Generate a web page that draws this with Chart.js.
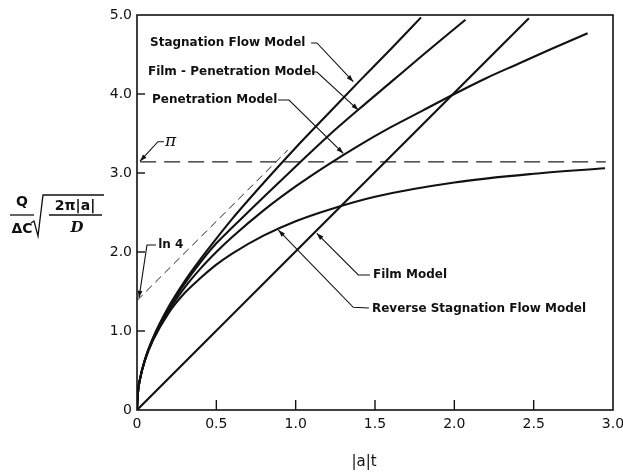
<!DOCTYPE html>
<html><head><meta charset="utf-8">
<script src="https://cdn.jsdelivr.net/npm/chart.js@4.4.1/dist/chart.umd.min.js"></script>
<style>html,body{margin:0;padding:0;background:#fff}canvas{display:block}</style>
</head><body>
<canvas id="c" width="623" height="472"></canvas>
<script>
// ---- tick values / labels ----
const xTickValues = [0, 0.5, 1, 1.5, 2, 2.5, 3];
const xTickLabels = ['0', '0.5', '1.0', '1.5', '2.0', '2.5', '3.0'];
const yTickValues = [0, 1, 2, 3, 4, 5];
const yTickLabels = ['0', '1.0', '2.0', '3.0', '4.0', '5.0'];

// ---- series ----
const stagX = [0, 0.005, 0.02, 0.05, 0.1, 0.2, 0.3, 0.4, 0.5, 0.6, 0.8, 1.0, 1.2, 1.4, 1.6, 1.79];
const stagY = [0, 0.20, 0.40, 0.64, 0.91, 1.31, 1.63, 1.91, 2.17, 2.42, 2.88, 3.32, 3.74, 4.16, 4.57, 4.97];

const filmPenX = [0, 0.005, 0.02, 0.05, 0.1, 0.2, 0.3, 0.4, 0.5, 0.6, 0.8, 1.03, 1.2, 1.4, 1.6, 1.8, 2.07];
const filmPenY = [0, 0.20, 0.40, 0.635, 0.90, 1.29, 1.60, 1.87, 2.11, 2.31, 2.70, 3.14, 3.46, 3.81, 4.15, 4.49, 4.94];

const penX = [0, 0.005, 0.02, 0.05, 0.1, 0.2, 0.3, 0.4, 0.5, 0.6, 0.8, 1.0, 1.2, 1.4, 1.6, 1.8, 2.0, 2.2, 2.4, 2.6, 2.84];
const penY = [0, 0.20, 0.40, 0.63, 0.89, 1.26, 1.55, 1.79, 2.00, 2.19, 2.53, 2.83, 3.10, 3.35, 3.58, 3.79, 4.00, 4.20, 4.38, 4.56, 4.77];

const filmX = [0, 2.47];
const filmY = [0, 4.96];

const revStagX = [0, 0.005, 0.02, 0.05, 0.1, 0.2, 0.3, 0.4, 0.5, 0.6, 0.8, 1.0, 1.2, 1.5, 2.0, 2.5, 2.95];
const revStagY = [0, 0.20, 0.40, 0.63, 0.88, 1.23, 1.48, 1.67, 1.84, 1.98, 2.21, 2.39, 2.53, 2.70, 2.88, 2.99, 3.06];

const piX = [0.02, 2.955];
const piY = [3.1416, 3.1416];

const ln4X = [0, 0.95];
const ln4Y = [1.386, 3.29];

// ---- annotations (data units) ----
const notes = [
  { text: 'Stagnation Flow Model', at: [0.082, 4.646], path: [[1.097, 4.646], [1.134, 4.646], [1.363, 4.156]] },
  { text: 'Film - Penetration Model', at: [0.069, 4.278], path: [[1.103, 4.278], [1.134, 4.278], [1.395, 3.797]] },
  { text: 'Penetration Model', at: [0.095, 3.924], path: [[0.889, 3.924], [0.958, 3.924], [1.300, 3.249]] },
  { text: 'Film Model', at: [1.487, 1.709], path: [[1.468, 1.709], [1.395, 1.709], [1.133, 2.237]] },
  { text: 'Reverse Stagnation Flow Model', at: [1.481, 1.285], path: [[1.462, 1.292], [1.363, 1.300], [0.891, 2.278]] },
  { text: '\u03C0', at: [0.176, 3.396], path: [[0.170, 3.396], [0.132, 3.396], [0.019, 3.150]], serif: true },
  { text: 'ln 4', at: [0.134, 2.089], path: [[0.120, 2.089], [0.063, 2.089], [0.0126, 1.42]] }
];

const pts = (xs, ys) => xs.map((x, i) => ({ x: x, y: ys[i] }));
const solid = (label, xs, ys) => ({
  label, data: pts(xs, ys), showLine: true, pointRadius: 0, borderColor: '#111',
  borderWidth: 2.1, fill: false, cubicInterpolationMode: 'monotone'
});
const dashed = (label, xs, ys, dash, w) => ({
  label, data: pts(xs, ys), showLine: true, pointRadius: 0, borderColor: '#222',
  borderWidth: w, borderDash: dash, fill: false
});

function arrowHead(ctx, x0, y0, x1, y1, len, hw) {
  const a = Math.atan2(y1 - y0, x1 - x0);
  ctx.beginPath();
  ctx.moveTo(x1, y1);
  ctx.lineTo(x1 - len * Math.cos(a) + hw * Math.sin(a), y1 - len * Math.sin(a) - hw * Math.cos(a));
  ctx.lineTo(x1 - len * Math.cos(a) - hw * Math.sin(a), y1 - len * Math.sin(a) + hw * Math.cos(a));
  ctx.closePath();
  ctx.fill();
}

const decor = {
  id: 'decor',
  afterDraw(chart) {
    const ctx = chart.ctx, a = chart.chartArea;
    const xs = chart.scales.x, ys = chart.scales.y;
    ctx.save();
    ctx.strokeStyle = '#111'; ctx.fillStyle = '#111';
    // frame
    ctx.lineWidth = 1.6;
    ctx.strokeRect(a.left, a.top, a.right - a.left, a.bottom - a.top);
    // inward ticks
    ctx.lineWidth = 1.4;
    xTickValues.forEach(v => {
      if (v <= 0 || v >= 3) return;
      const p = xs.getPixelForValue(v);
      ctx.beginPath(); ctx.moveTo(p, a.bottom); ctx.lineTo(p, a.bottom - 10); ctx.stroke();
    });
    yTickValues.forEach(v => {
      if (v <= 0 || v >= 5) return;
      const p = ys.getPixelForValue(v);
      ctx.beginPath(); ctx.moveTo(a.left, p); ctx.lineTo(a.left + 8, p); ctx.stroke();
    });
    // annotations
    ctx.lineWidth = 1.1;
    notes.forEach(n => {
      const tx = xs.getPixelForValue(n.at[0]), ty = ys.getPixelForValue(n.at[1]);
      ctx.font = n.serif ? 'italic 17px "DejaVu Serif"' : 'bold 12px "DejaVu Sans"';
      ctx.textAlign = 'left'; ctx.textBaseline = 'middle';
      ctx.fillText(n.text, tx, ty);
      const pp = n.path.map(q => [xs.getPixelForValue(q[0]), ys.getPixelForValue(q[1])]);
      ctx.beginPath();
      pp.forEach((q, i) => i ? ctx.lineTo(q[0], q[1]) : ctx.moveTo(q[0], q[1]));
      ctx.stroke();
      const m = pp.length;
      arrowHead(ctx, pp[m - 2][0], pp[m - 2][1], pp[m - 1][0], pp[m - 1][1], 7, 2.4);
    });
    // x axis title
    ctx.font = '15px "DejaVu Sans"';
    ctx.textAlign = 'center'; ctx.textBaseline = 'middle';
    ctx.fillText('|a|t', 364, 462);
    // y axis title: Q/ΔC sqrt(2π|a|/D)
    ctx.font = 'bold 14px "DejaVu Sans"';
    ctx.fillText('Q', 22, 202);
    ctx.fillText('\u0394C', 22, 229);
    ctx.lineWidth = 1.3;
    ctx.beginPath(); ctx.moveTo(10, 215); ctx.lineTo(34, 215); ctx.stroke();
    ctx.beginPath();
    ctx.moveTo(31, 223); ctx.lineTo(34, 221); ctx.lineTo(38, 236); ctx.lineTo(43, 195); ctx.lineTo(104, 195);
    ctx.stroke();
    ctx.fillText('2\u03C0|a|', 75, 206);
    ctx.beginPath(); ctx.moveTo(49, 215); ctx.lineTo(102, 215); ctx.stroke();
    ctx.font = 'italic bold 15px "DejaVu Serif"';
    ctx.fillText('D', 77, 228);
    ctx.restore();
  }
};

const tickFont = { family: 'DejaVu Sans', size: 14 };
const noPad = s => { s.paddingLeft = 0; s.paddingRight = 0; s.paddingTop = 0; s.paddingBottom = 0; };

new Chart(document.getElementById('c'), {
  type: 'scatter',
  data: {
    datasets: [
      solid('Stagnation Flow Model', stagX, stagY),
      solid('Film - Penetration Model', filmPenX, filmPenY),
      solid('Penetration Model', penX, penY),
      solid('Film Model', filmX, filmY),
      solid('Reverse Stagnation Flow Model', revStagX, revStagY),
      dashed('pi', piX, piY, [16, 8], 1.3),
      dashed('ln 4', ln4X, ln4Y, [8, 5], 1.0)
    ]
  },
  options: {
    responsive: false, animation: false, devicePixelRatio: 1,
    layout: { padding: { left: 0, top: 15, right: 10, bottom: 0 } },
    plugins: { legend: { display: false }, tooltip: { enabled: false } },
    scales: {
      x: {
        type: 'linear', min: 0, max: 3,
        afterBuildTicks: s => { s.ticks = xTickValues.map(v => ({ value: v })); },
        afterFit: s => { s.height = 62; noPad(s); },
        grid: { display: false, drawTicks: false },
        border: { display: false },
        ticks: {
          color: '#111', font: tickFont, padding: 6, maxRotation: 0, autoSkip: false,
          callback: v => xTickLabels[xTickValues.indexOf(v)]
        }
      },
      y: {
        type: 'linear', min: 0, max: 5,
        afterBuildTicks: s => { s.ticks = yTickValues.map(v => ({ value: v })); },
        afterFit: s => { s.width = 137; noPad(s); },
        grid: { display: false, drawTicks: false },
        border: { display: false },
        ticks: {
          color: '#111', font: tickFont, padding: 5, autoSkip: false,
          callback: v => yTickLabels[yTickValues.indexOf(v)]
        }
      }
    }
  },
  plugins: [decor]
});
</script>
</body></html>
